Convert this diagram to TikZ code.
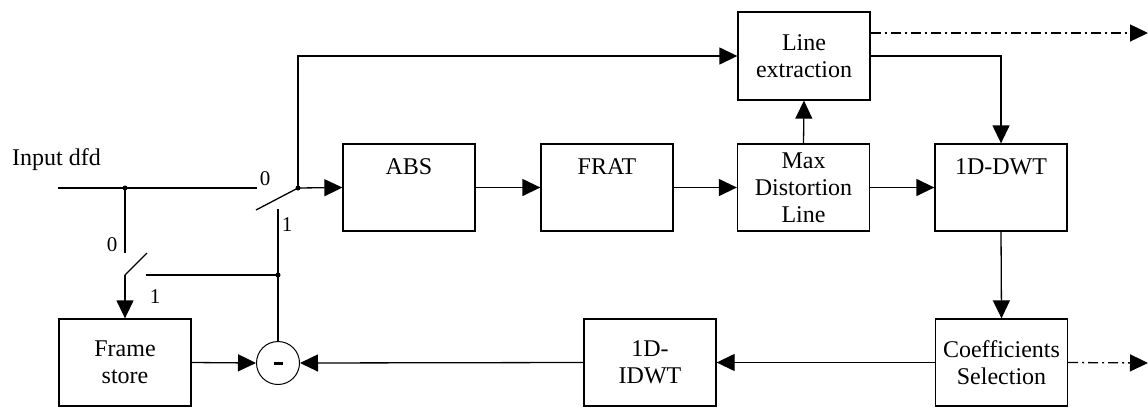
\documentclass[tikz,border=0pt]{standalone}
\usepackage{fontspec}
\setmainfont{Liberation Serif}
\usetikzlibrary{arrows.meta,calc}

\tikzset{
  blk/.style={draw, line width=1.3pt, minimum width=132pt, minimum height=87pt,
    inner sep=0pt, align=center, font=\fontsize{24}{27}\selectfont},
  toptext/.style={anchor=center, yshift=-23.5pt, inner sep=0pt,
    font=\fontsize{24}{27}\selectfont},
  wire/.style={line width=1.3pt},
  flow/.style={wire, -{Triangle[length=18pt,width=17pt]}},
  tap/.style={wire, dash pattern=on 10pt off 4pt on 2pt off 4pt,
    -{Triangle[length=18pt,width=17pt]}},
  pin/.style={font=\fontsize{21}{23}\selectfont, inner sep=0pt},
  dot/.style={circle, fill, inner sep=0pt, minimum size=5pt},
}

\begin{document}
\begin{tikzpicture}[x=1pt,y=-1pt]
\useasboundingbox (0,0) rectangle (1148,407);

% processing blocks
\node[blk, minimum height=88pt] (le) at (804,56) {Line\\extraction};
\node[blk, label={[toptext]north:ABS}] (abs) at (409,187.5) {};
\node[blk, label={[toptext]north:FRAT}] (frat) at (607,187.5) {};
\node[blk] (mdl) at (803.5,187.5) {Max\\Distortion\\Line};
\node[blk, label={[toptext]north:1D-DWT}] (dwt) at (1001,187.5) {};
\node[blk] (coef) at (1001.5,362.5) {Coefficients\\Selection};
\node[blk] (idwt) at (650,362.5) {1D-\\IDWT};
\node[blk] (fs) at (125,362.5) {Frame\\store};

% subtractor with a heavy minus bar
\node[draw, circle, line width=1pt, minimum size=43pt, inner sep=0pt] (sub) at (278,363) {};
\draw[line width=3pt] ([xshift=-4.5pt]sub.center) -- ([xshift=4.5pt]sub.center);

% input label
\node[anchor=base west, inner sep=0pt, font=\fontsize{24}{27}\selectfont]
  (inlbl) at (12,165) {Input dfd};

% input line and junction
\coordinate (inL) at (58,188);
\node[dot] (j1) at (125,188) {};
\coordinate (sw0) at (257,188);
\draw[wire] (inL) -- (sw0);

% upper switch: pivot, blade and its two contacts
\node[dot] (sw) at (298,188) {};
\coordinate (blade1) at (256,210);
\draw[wire] (sw.center) -- (blade1);
\node[pin] (p0a) at (265,179) {0};
\coordinate (sw1) at (278,209);
\node[pin] (p1a) at (287,225) {1};
\node[dot] (j2) at (278,275) {};
\draw[wire] (sw1) -- (sub.north);

% lower switch
\coordinate (lw0) at (125,253);
\coordinate (lwp) at (125,275);
\coordinate (lwb) at (147,253);
\coordinate (lw1) at (146,275);
\draw[wire] (j1.center) -- (lw0);
\draw[wire] (lwp) -- (lwb);
\draw[wire] (lw1) -- (j2.center);
\node[pin] (p0b) at (112,245) {0};
\node[pin] (p1b) at (155,297) {1};
\draw[flow] (lwp) -- (fs.north);

% forward path
\draw[flow] (sw.center) -- (abs.west);
\draw[flow] (sw.center) |- (le.west);
\draw[flow] (abs.east) -- (frat.west);
\draw[flow] (frat.east) -- (mdl.west);
\draw[flow] (mdl.east) -- (dwt.west);
\draw[flow] (mdl.north) -- (le.south);
\draw[flow] (le.east) -| (dwt.north);
\draw[flow] (dwt.south) -- (coef.north);

% feedback path
\draw[flow] (coef.west) -- (idwt.east);
\draw[flow] (idwt.west) -- (sub.east);
\draw[flow] (fs.east) -- (sub.west);

% side outputs
\coordinate (out1) at (1148,33);
\coordinate (out2) at (1148,363);
\draw[tap] ([yshift=23pt]le.east) -- (out1);
\draw[tap] (coef.east) -- (out2);
\end{tikzpicture}
\end{document}
